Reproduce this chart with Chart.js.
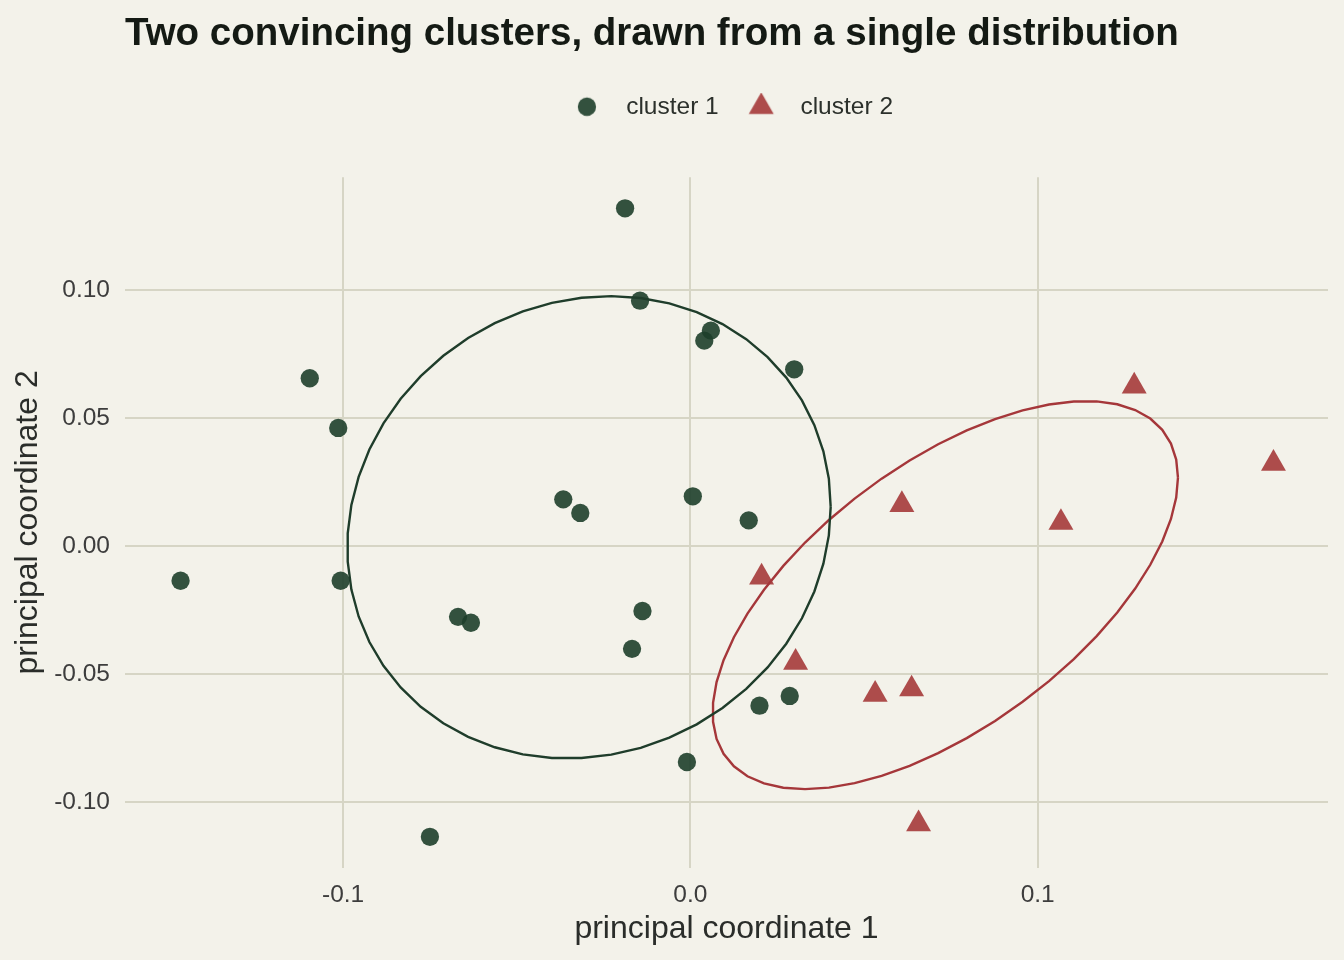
<!DOCTYPE html>
<html>
<head>
<meta charset="utf-8">
<script src="https://cdn.jsdelivr.net/npm/chart.js@4/dist/chart.umd.min.js"></script>
<style>
  html, body { margin: 0; padding: 0; background: #f3f2ea; }
  canvas { display: block; }
</style>
</head>
<body>
<canvas id="chart" width="1344" height="960"></canvas>
<script>
// cluster 1 (circles)
var cluster1X = [-0.1468, -0.1096, -0.1014, -0.1007, -0.0750, -0.0669, -0.0632, -0.0366, -0.0317, -0.0188, -0.0145,
                 -0.0168, -0.0138, -0.0010, 0.0007, 0.0040, 0.0059, 0.0168, 0.0199, 0.0286, 0.0299];
var cluster1Y = [-0.0136, 0.0655, 0.0461, -0.0136, -0.1136, -0.0277, -0.0300, 0.0182, 0.0129, 0.1319, 0.0958,
                 -0.0402, -0.0254, -0.0844, 0.0194, 0.0802, 0.0841, 0.0100, -0.0624, -0.0586, 0.0690];
// cluster 2 (triangles)
var cluster2X = [0.0205, 0.0303, 0.0532, 0.0609, 0.0637, 0.0657, 0.1067, 0.1278, 0.1679];
var cluster2Y = [-0.0122, -0.0455, -0.0580, 0.0161, -0.0559, -0.1086, 0.0091, 0.0624, 0.0322];
// ellipses: centre x, centre y, half width, half height, correlation
var ellipse1 = [-0.0292, 0.0073, 0.0696, 0.0903, 0.088];
var ellipse2 = [0.0734, -0.0192, 0.0670, 0.0758, 0.605];

var xTicks = [-0.1, 0, 0.1];
var yTicks = [-0.10, -0.05, 0, 0.05, 0.10];
var xRange = [-0.1628, 0.1836];
var yRange = [-0.1256, 0.1440];

var green = 'rgba(30,63,43,0.9)';
var red = 'rgba(165,58,58,0.9)';
var greenLine = '#1f3d2b';
var redLine = '#a5373a';
var gridColor = '#d6d5c5';

Chart.defaults.font.family = '"Liberation Sans", Arial, sans-serif';

function zip(xs, ys) {
    return xs.map(function(x, i) { return {x: x, y: ys[i]}; });
}

function ellipsePath(e) {
    var pts = [];
    var n = 51;
    var k = Math.sqrt(1 - e[4] * e[4]);
    for (var i = 0; i <= n; i++) {
        var t = 2 * Math.PI * i / n;
        pts.push({
            x: e[0] + e[2] * Math.cos(t),
            y: e[1] + e[3] * (e[4] * Math.cos(t) + k * Math.sin(t))
        });
    }
    return pts;
}

// legend symbols, drawn at the same size as the points
function legendMark(shape, color) {
    var c = document.createElement('canvas');
    c.width = 30;
    c.height = 30;
    var g = c.getContext('2d');
    var cy = 14;
    g.fillStyle = color;
    g.beginPath();
    if (shape === 'circle') {
        g.arc(15, cy, 9.15, 0, Math.PI * 2);
    } else {
        var r = 14.4;
        g.moveTo(15, cy - r);
        g.lineTo(15 + r * 0.866, cy + r / 2);
        g.lineTo(15 - r * 0.866, cy + r / 2);
        g.closePath();
    }
    g.fill();
    return c;
}
var legendMarks = [legendMark('circle', green), legendMark('triangle', red)];

// empty box between legend and plot area
var legendGap = {
    id: 'legendGap',
    beforeInit: function(chart) {
        Chart.layouts.addBox(chart, {
            position: 'top',
            weight: 100,
            fullSize: false,
            options: {},
            top: 0, left: 0, right: 0, bottom: 0, width: 0, height: 0,
            isHorizontal: function() { return true; },
            update: function(maxWidth) { this.width = maxWidth; this.height = 47.35; },
            draw: function() {}
        });
    }
};

var ctx = document.getElementById('chart').getContext('2d');
var chart = new Chart(ctx, {
    type: 'scatter',
    data: {
        datasets: [{
            label: 'cluster 1',
            data: zip(cluster1X, cluster1Y),
            pointStyle: 'circle',
            pointRadius: 9.15,
            backgroundColor: green,
            borderWidth: 0,
            order: 2
        }, {
            label: 'cluster 2',
            data: zip(cluster2X, cluster2Y),
            pointStyle: 'triangle',
            pointRadius: 14.4,
            backgroundColor: red,
            borderWidth: 0,
            order: 2
        }, {
            label: 'ellipse 1',
            data: ellipsePath(ellipse1),
            showLine: true,
            pointRadius: 0,
            borderColor: greenLine,
            borderWidth: 2.4,
            fill: false,
            tension: 0,
            order: 1
        }, {
            label: 'ellipse 2',
            data: ellipsePath(ellipse2),
            showLine: true,
            pointRadius: 0,
            borderColor: redLine,
            borderWidth: 2.4,
            fill: false,
            tension: 0,
            order: 1
        }]
    },
    options: {
        responsive: false,
        animation: false,
        devicePixelRatio: 1,
        events: [],
        layout: { padding: { right: 16 } },
        scales: {
            x: {
                type: 'linear',
                min: xRange[0],
                max: xRange[1],
                afterBuildTicks: function(s) { s.ticks = xTicks.map(function(v) { return {value: v}; }); },
                afterFit: function(s) { s.height = 92.5; },
                grid: { color: gridColor, lineWidth: 2, drawTicks: false },
                border: { display: false },
                ticks: {
                    padding: 13,
                    color: '#3d3d3d',
                    font: { size: 24.5 },
                    callback: function(v) { return v.toFixed(1); }
                },
                title: {
                    display: true,
                    text: 'principal coordinate 1',
                    color: '#2a2d2a',
                    font: { size: 32 },
                    padding: { top: 0, bottom: 12 }
                }
            },
            y: {
                type: 'linear',
                min: yRange[0],
                max: yRange[1],
                afterBuildTicks: function(s) { s.ticks = yTicks.map(function(v) { return {value: v}; }); },
                afterFit: function(s) { s.width = 125; },
                grid: { color: gridColor, lineWidth: 2, drawTicks: false },
                border: { display: false },
                ticks: {
                    padding: 15,
                    color: '#3d3d3d',
                    font: { size: 24.5 },
                    callback: function(v) { return v.toFixed(2); }
                },
                title: {
                    display: true,
                    text: 'principal coordinate 2',
                    color: '#2a2d2a',
                    font: { size: 32 },
                    padding: { top: 9.4, bottom: 0 }
                }
            }
        },
        plugins: {
            title: {
                display: true,
                text: 'Two convincing clusters, drawn from a single distribution',
                align: 'start',
                fullSize: false,
                color: '#141a14',
                font: { size: 38.5, weight: 'bold' },
                padding: { top: 11.3, bottom: 22.4 }
            },
            legend: {
                fullSize: false,
                labels: {
                    usePointStyle: true,
                    pointStyleWidth: 53.9,
                    padding: 15.55,
                    color: '#2b302b',
                    font: { size: 24.5 },
                    generateLabels: function(chart) {
                        return Chart.defaults.plugins.legend.labels.generateLabels(chart)
                            .filter(function(l) { return l.datasetIndex < 2; })
                            .map(function(l) {
                                l.pointStyle = legendMarks[l.datasetIndex];
                                return l;
                            });
                    }
                }
            },
            tooltip: { enabled: false }
        }
    },
    plugins: [legendGap]
});
</script>
</body>
</html>
